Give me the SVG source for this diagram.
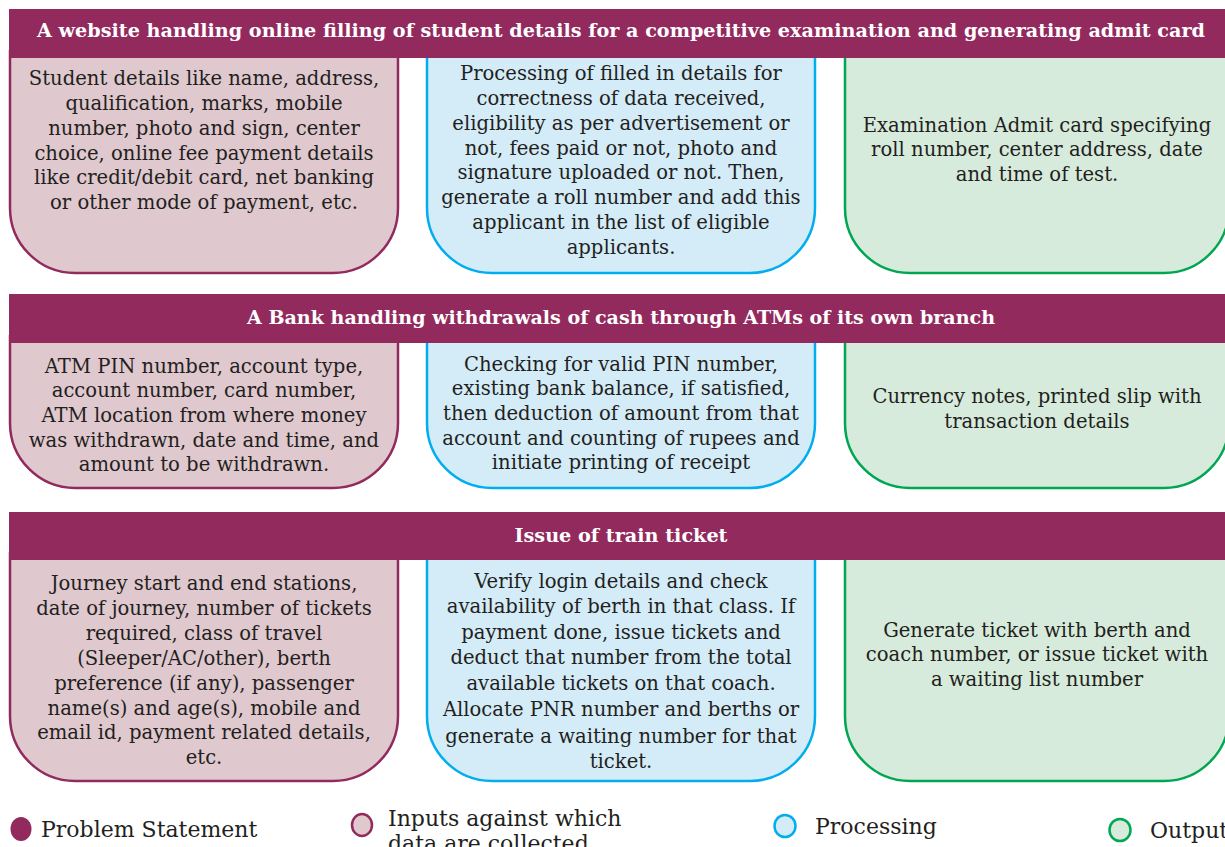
<svg xmlns="http://www.w3.org/2000/svg" width="1225" height="847" viewBox="0 0 1225 847">
<style>
.hdr{fill:#922A5E}
.ht{font-family:"DejaVu Serif","Liberation Serif",serif;font-weight:bold;font-size:18px;fill:#ffffff;text-anchor:middle}
.inp{fill:#DFC8CE;stroke:#922A5E;stroke-width:2.5}
.pro{fill:#D4EBF8;stroke:#00AEEF;stroke-width:2.5}
.out{fill:#D7EBDC;stroke:#00A651;stroke-width:2.5}
.t{font-family:"DejaVu Serif","Liberation Serif",serif;font-size:19.6px;fill:#231F20;text-anchor:middle}
.lg{font-family:"DejaVu Serif","Liberation Serif",serif;font-size:22px;fill:#231F20}
</style>
<rect width="1225" height="847" fill="#ffffff"/>

<g id="row1">
  <g id="r1-input">
    <path class="inp" d="M10,50 V208 A65,65 0 0 0 75,273 H333 A65,65 0 0 0 398,208 V50"/>
    <text class="t" x="204" y="85">Student details like name, address,</text>
    <text class="t" x="204" y="110">qualification, marks, mobile</text>
    <text class="t" x="204" y="135">number, photo and sign, center</text>
    <text class="t" x="204" y="160">choice, online fee payment details</text>
    <text class="t" x="204" y="184">like credit/debit card, net banking</text>
    <text class="t" x="204" y="209">or other mode of payment, etc.</text>
  </g>
  <g id="r1-process">
    <path class="pro" d="M427,50 V208 A65,65 0 0 0 492,273 H750 A65,65 0 0 0 815,208 V50"/>
    <text class="t" x="621" y="80">Processing of filled in details for</text>
    <text class="t" x="621" y="105">correctness of data received,</text>
    <text class="t" x="621" y="130">eligibility as per advertisement or</text>
    <text class="t" x="621" y="155">not, fees paid or not, photo and</text>
    <text class="t" x="621" y="179">signature uploaded or not. Then,</text>
    <text class="t" x="621" y="204">generate a roll number and add this</text>
    <text class="t" x="621" y="229">applicant in the list of eligible</text>
    <text class="t" x="621" y="254">applicants.</text>
  </g>
  <g id="r1-output">
    <path class="out" d="M845,50 V208 A65,65 0 0 0 910,273 H1164 A65,65 0 0 0 1229,208 V50"/>
    <text class="t" x="1037" y="132">Examination Admit card specifying</text>
    <text class="t" x="1037" y="156">roll number, center address, date</text>
    <text class="t" x="1037" y="181">and time of test.</text>
  </g>
  <g id="r1-problem">
    <rect class="hdr" x="9" y="9" width="1216" height="49"/>
    <text class="ht" x="621" y="37" textLength="1168" lengthAdjust="spacingAndGlyphs">A website handling online filling of student details for a competitive examination and generating admit card</text>
  </g>
</g>

<g id="row2">
  <g id="r2-input">
    <path class="inp" d="M10,335 V423 A65,65 0 0 0 75,488 H333 A65,65 0 0 0 398,423 V335"/>
    <text class="t" x="204" y="373">ATM PIN number, account type,</text>
    <text class="t" x="204" y="397">account number, card number,</text>
    <text class="t" x="204" y="422">ATM location from where money</text>
    <text class="t" x="204" y="447">was withdrawn, date and time, and</text>
    <text class="t" x="204" y="471">amount to be withdrawn.</text>
  </g>
  <g id="r2-process">
    <path class="pro" d="M427,335 V423 A65,65 0 0 0 492,488 H750 A65,65 0 0 0 815,423 V335"/>
    <text class="t" x="621" y="371">Checking for valid PIN number,</text>
    <text class="t" x="621" y="395">existing bank balance, if satisfied,</text>
    <text class="t" x="621" y="420">then deduction of amount from that</text>
    <text class="t" x="621" y="445">account and counting of rupees and</text>
    <text class="t" x="621" y="469">initiate printing of receipt</text>
  </g>
  <g id="r2-output">
    <path class="out" d="M845,335 V423 A65,65 0 0 0 910,488 H1164 A65,65 0 0 0 1229,423 V335"/>
    <text class="t" x="1037" y="403">Currency notes, printed slip with</text>
    <text class="t" x="1037" y="428">transaction details</text>
  </g>
  <g id="r2-problem">
    <rect class="hdr" x="9" y="294" width="1216" height="49"/>
    <text class="ht" x="621" y="324" textLength="748" lengthAdjust="spacingAndGlyphs">A Bank handling withdrawals of cash through ATMs of its own branch</text>
  </g>
</g>

<g id="row3">
  <g id="r3-input">
    <path class="inp" d="M10,552 V716 A65,65 0 0 0 75,781 H333 A65,65 0 0 0 398,716 V552"/>
    <text class="t" x="204" y="590">Journey start and end stations,</text>
    <text class="t" x="204" y="615">date of journey, number of tickets</text>
    <text class="t" x="204" y="640">required, class of travel</text>
    <text class="t" x="204" y="665">(Sleeper/AC/other), berth</text>
    <text class="t" x="204" y="690">preference (if any), passenger</text>
    <text class="t" x="204" y="715">name(s) and age(s), mobile and</text>
    <text class="t" x="204" y="739">email id, payment related details,</text>
    <text class="t" x="204" y="764">etc.</text>
  </g>
  <g id="r3-process">
    <path class="pro" d="M427,552 V716 A65,65 0 0 0 492,781 H750 A65,65 0 0 0 815,716 V552"/>
    <text class="t" x="621" y="588">Verify login details and check</text>
    <text class="t" x="621" y="613">availability of berth in that class. If</text>
    <text class="t" x="621" y="639">payment done, issue tickets and</text>
    <text class="t" x="621" y="664">deduct that number from the total</text>
    <text class="t" x="621" y="690">available tickets on that coach.</text>
    <text class="t" x="621" y="716">Allocate PNR number and berths or</text>
    <text class="t" x="621" y="743">generate a waiting number for that</text>
    <text class="t" x="621" y="768">ticket.</text>
  </g>
  <g id="r3-output">
    <path class="out" d="M845,552 V716 A65,65 0 0 0 910,781 H1164 A65,65 0 0 0 1229,716 V552"/>
    <text class="t" x="1037" y="637">Generate ticket with berth and</text>
    <text class="t" x="1037" y="661">coach number, or issue ticket with</text>
    <text class="t" x="1037" y="686">a waiting list number</text>
  </g>
  <g id="r3-problem">
    <rect class="hdr" x="9" y="512" width="1216" height="48"/>
    <text class="ht" x="621" y="542" textLength="213" lengthAdjust="spacingAndGlyphs">Issue of train ticket</text>
  </g>
</g>

<g id="connectors"></g>

<g id="legend">
  <g id="lg-problem">
    <ellipse cx="21" cy="829" rx="10.5" ry="12" fill="#922A5E"/>
    <text class="lg" x="41" y="837">Problem Statement</text>
  </g>
  <g id="lg-input">
    <ellipse cx="362" cy="825" rx="10" ry="11" class="inp"/>
    <text class="lg" x="388" y="826">Inputs against which</text>
    <text class="lg" x="388" y="851">data are collected</text>
  </g>
  <g id="lg-process">
    <ellipse cx="785" cy="826" rx="10.5" ry="11" class="pro"/>
    <text class="lg" x="815" y="834">Processing</text>
  </g>
  <g id="lg-output">
    <ellipse cx="1120" cy="830" rx="10.5" ry="11" class="out"/>
    <text class="lg" x="1150" y="838">Output</text>
  </g>
</g>
</svg>
